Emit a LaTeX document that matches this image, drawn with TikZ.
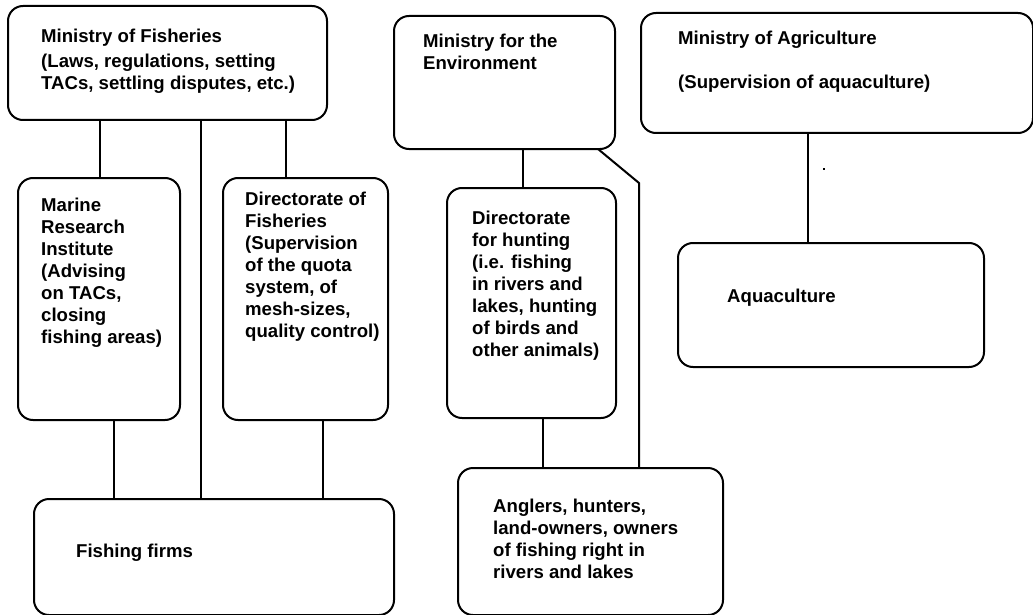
\documentclass[tikz,border=0pt]{standalone}
\usepackage{fontspec}
\setmainfont{Liberation Sans}
\newcommand{\boxtext}[1]{\begin{tabular}[t]{@{}l@{}}#1\end{tabular}}
\begin{document}
\begin{tikzpicture}[x=1pt,y=-1pt,
  orgbox/.style={draw, line width=2pt, rounded corners=15pt, inner sep=0pt, outer sep=0pt},
  lbl/.style={anchor=base west, inner sep=0pt, font=\fontsize{18.6}{22}\selectfont\bfseries},
  link/.style={line width=2pt}]
\useasboundingbox (0,0) rectangle (1033,615);

% organisation boxes
\node[orgbox, minimum width=319pt, minimum height=114pt] (mf)  at (167.5,63) {};
\node[orgbox, minimum width=221pt, minimum height=133pt] (me)  at (504.5,82.5) {};
\node[orgbox, minimum width=392pt, minimum height=120pt] (ma)  at (837,73) {};
\node[orgbox, minimum width=306pt, minimum height=124pt] (aq)  at (831,305) {};
\node[orgbox, minimum width=162pt, minimum height=242pt] (mri) at (99,299) {};
\node[orgbox, minimum width=165pt, minimum height=242pt] (dof) at (305.5,299) {};
\node[orgbox, minimum width=169pt, minimum height=230pt] (dh)  at (531.5,303) {};
\node[orgbox, minimum width=360pt, minimum height=116pt] (ff)  at (214,557) {};
\node[orgbox, minimum width=265pt, minimum height=147pt] (ang) at (590.5,541.5) {};

% box texts
\node[lbl] (tmf) at (41,43) {\boxtext{Ministry of Fisheries\\[3pt](Laws, regulations, setting\\TACs, settling disputes, etc.)}};
\node[lbl] (tme) at (423,48) {\boxtext{Ministry for the\\Environment}};
\node[lbl] (tma) at (678,45) {\boxtext{Ministry of Agriculture\\[22pt](Supervision of aquaculture)}};
\node[lbl] (taq) at (727,302) {Aquaculture};
\node[lbl] (tmri) at (41,211) {\boxtext{Marine\\Research\\Institute\\(Advising\\on TACs,\\closing\\fishing areas)}};
\node[lbl] (tdof) at (245,205) {\boxtext{Directorate of\\Fisheries\\(Supervision\\of the quota\\system, of\\mesh-sizes,\\quality control)}};
\node[lbl] (tdh) at (472,224) {\boxtext{Directorate\\for hunting\\(i.e. fishing\\in rivers and\\lakes, hunting\\of birds and\\other animals)}};
\node[lbl] (tff) at (76,557) {Fishing firms};
\node[lbl] (tang) at (493,512) {\boxtext{Anglers, hunters,\\land-owners, owners\\of fishing right in\\rivers and lakes}};

% connector columns
\coordinate (xa) at (100,0);
\coordinate (xb) at (201,0);
\coordinate (xc) at (286,0);
\coordinate (xd) at (114,0);
\coordinate (xe) at (323,0);
\coordinate (xf) at (523,0);
\coordinate (xg) at (543,0);
\coordinate (xh) at (808,0);
\coordinate (bend) at (639,183);

% connectors
\draw[link] (xa |- mf.south) -- (xa |- mri.north);
\draw[link] (xb |- mf.south) -- (xb |- ff.north);
\draw[link] (xc |- mf.south) -- (xc |- dof.north);
\draw[link] (xd |- mri.south) -- (xd |- ff.north);
\draw[link] (xe |- dof.south) -- (xe |- ff.north);
\draw[link] (xf |- me.south) -- (xf |- dh.north);
\draw[link] (xg |- dh.south) -- (xg |- ang.north);
\draw[link] ([xshift=-17pt]me.south east) -- (bend) -- (bend |- ang.north);
\draw[link] (xh |- ma.south) -- (xh |- aq.north);

% stray dot
\fill (823,168) rectangle (825,170);
\end{tikzpicture}
\end{document}
